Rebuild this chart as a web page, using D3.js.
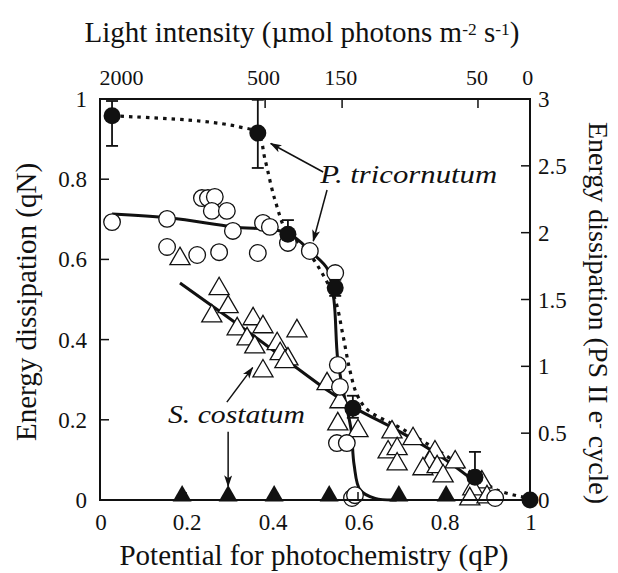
<!DOCTYPE html>
<html><head><meta charset="utf-8">
<script src="https://cdn.jsdelivr.net/npm/d3@7"></script>
<style>body{margin:0;background:#fff;}</style></head>
<body><svg id="c" width="618" height="573"></svg>
<script>
// ---- data ----
const xTicks = [0, 0.2, 0.4, 0.6, 0.8, 1];
const xTickLabels = ["0", "0.2", "0.4", "0.6", "0.8", "1"];
const yLeftTicks = [0, 0.2, 0.4, 0.6, 0.8, 1];
const yLeftTickLabels = ["0", "0.2", "0.4", "0.6", "0.8", "1"];
const yRightTicks = [0, 0.5, 1, 1.5, 2, 2.5, 3];
const yRightTickLabels = ["0", "0.5", "1", "1.5", "2", "2.5", "3"];
const topTickLabels = ["2000", "500", "150", "50", "0"];
const topTickQ = [0.05, 0.38, 0.56, 0.877, 0.995];
const topTickMarkQ = [0.384, 0.563, 0.879];

// P. tricornutum means (filled circles) qP, qN, error low, error high
const meanQ = [0.028, 0.367, 0.437, 0.547, 0.588, 0.872, 1.0];
const meanV = [0.958, 0.915, 0.663, 0.529, 0.229, 0.057, 0.0];
const meanLo = [0.883, 0.828, 0.663, 0.509, 0.205, 0.057, 0.0];
const meanHi = [0.995, 0.998, 0.698, 0.549, 0.260, 0.120, 0.0];

// P. tricornutum individual (open circles)
const ptQ = [0.028, 0.156, 0.237, 0.251, 0.267, 0.260, 0.295, 0.156, 0.226, 0.277, 0.367, 0.309, 0.379, 0.395, 0.437, 0.488, 0.547, 0.553, 0.558, 0.551, 0.574, 0.586, 0.593, 0.919];
const ptV = [0.693, 0.701, 0.753, 0.753, 0.756, 0.721, 0.721, 0.631, 0.611, 0.618, 0.616, 0.671, 0.691, 0.681, 0.641, 0.621, 0.566, 0.337, 0.282, 0.142, 0.142, 0.005, 0.012, 0.005];

// S. costatum individual (open triangles)
const scQ = [0.186, 0.277, 0.298, 0.260, 0.356, 0.379, 0.319, 0.342, 0.360, 0.412, 0.458, 0.419, 0.437, 0.430, 0.379, 0.528, 0.558, 0.553, 0.600, 0.679, 0.728, 0.670, 0.691, 0.691, 0.779, 0.767, 0.751, 0.784, 0.826, 0.798, 0.888, 0.867, 0.860, 0.900];
const scV = [0.599, 0.524, 0.479, 0.456, 0.449, 0.429, 0.424, 0.399, 0.379, 0.387, 0.419, 0.362, 0.349, 0.342, 0.319, 0.287, 0.242, 0.187, 0.170, 0.167, 0.150, 0.117, 0.125, 0.087, 0.117, 0.092, 0.075, 0.080, 0.092, 0.057, 0.042, 0.025, 0.0, 0.005];

// filled triangles at zero
const zeroQ = [0.191, 0.298, 0.405, 0.533, 0.695, 0.805];

// fitted curves
const ptFitQ = [0.028, 0.163, 0.309, 0.435, 0.493, 0.530, 0.544, 0.553, 0.570, 0.584, 0.591, 0.605, 0.640, 0.690];
const ptFitV = [0.713, 0.703, 0.681, 0.666, 0.616, 0.574, 0.499, 0.349, 0.249, 0.175, 0.087, 0.025, 0.004, 0.0];
const scFitQ = [0.186, 0.349, 0.535, 0.593, 0.698, 0.791, 0.879];
const scFitV = [0.541, 0.416, 0.269, 0.229, 0.170, 0.110, 0.040];
const meanFitQ = [0.028, 0.233, 0.326, 0.367, 0.384, 0.407, 0.435, 0.477, 0.519, 0.547, 0.565, 0.581, 0.598, 0.623, 0.698, 0.791, 0.872, 0.923, 1.0];
const meanFitV = [0.958, 0.945, 0.930, 0.915, 0.848, 0.748, 0.668, 0.628, 0.561, 0.499, 0.411, 0.324, 0.262, 0.224, 0.180, 0.120, 0.062, 0.025, 0.004];

// annotations (data space)
const arrows = [
  [0.519, 0.818, 0.397, 0.889],
  [0.528, 0.773, 0.496, 0.646],
  [0.295, 0.244, 0.355, 0.330],
  [0.298, 0.170, 0.298, 0.034]
];

// ---- layout ----
const L = 100, R = 530, T = 99, B = 500;
const FONT = '"Liberation Serif", "Times New Roman", serif';
const svg = d3.select("#c");
const x = d3.scaleLinear().domain([0, 1]).range([L, R]);
const y = d3.scaleLinear().domain([0, 1]).range([B, T]);
const y2 = d3.scaleLinear().domain([0, 3]).range([B, T]);

function txt(sel, size) {
  return sel.append("text").style("font-family", FONT).style("font-size", size + "px").style("fill", "#111");
}
function fit(t, width, maxSize) {
  const base = parseFloat(t.style("font-size"));
  const w = t.node().getComputedTextLength();
  if (w > 0) t.style("font-size", Math.min(maxSize, base * width / w) + "px");
  return t;
}

svg.append("defs").append("marker")
  .attr("id", "ah").attr("viewBox", "0 0 12 8").attr("refX", 11).attr("refY", 4)
  .attr("markerWidth", 12).attr("markerHeight", 8).attr("markerUnits", "userSpaceOnUse")
  .attr("orient", "auto")
  .append("path").attr("d", "M0,0 L12,4 L0,8 L3,4 Z").attr("fill", "#111");

// lines
const line = d3.line().curve(d3.curveCatmullRom.alpha(0.5));
svg.append("path").attr("d", line(meanFitQ.map((q, i) => [x(q), y(meanFitV[i])])))
  .attr("fill", "none").attr("stroke", "#111").attr("stroke-width", 3.2).attr("stroke-dasharray", "3.5,5");
svg.append("path").attr("d", line(ptFitQ.map((q, i) => [x(q), y(ptFitV[i])])))
  .attr("fill", "none").attr("stroke", "#111").attr("stroke-width", 3);
svg.append("path").attr("d", line(scFitQ.map((q, i) => [x(q), y(scFitV[i])])))
  .attr("fill", "none").attr("stroke", "#111").attr("stroke-width", 3);

// open triangles
const tri = d3.symbol().type(d3.symbolTriangle).size(175);
svg.append("g").selectAll("path").data(scQ).join("path")
  .attr("d", tri).attr("transform", (q, i) => `translate(${x(q)},${y(scV[i]) - 1})`)
  .attr("fill", "#fff").attr("stroke", "#111").attr("stroke-width", 1.3);

// open circles
svg.append("g").selectAll("circle").data(ptQ).join("circle")
  .attr("cx", q => x(q)).attr("cy", (q, i) => y(ptV[i])).attr("r", 8.3)
  .attr("fill", "#fff").attr("stroke", "#111").attr("stroke-width", 1.3);

// frame
svg.append("rect").attr("x", L).attr("y", T).attr("width", R - L).attr("height", B - T)
  .attr("fill", "none").attr("stroke", "#111").attr("stroke-width", 2);

// filled triangles
svg.append("g").selectAll("path").data(zeroQ).join("path")
  .attr("d", d3.symbol().type(d3.symbolTriangle).size(155)).attr("transform", q => `translate(${x(q)},${B - 4})`)
  .attr("fill", "#111");

// error bars
const eb = svg.append("g").attr("stroke", "#111").attr("stroke-width", 1.8);
meanQ.forEach((q, i) => {
  if (meanHi[i] - meanLo[i] <= 0) return;
  eb.append("line").attr("x1", x(q)).attr("x2", x(q)).attr("y1", y(meanLo[i])).attr("y2", y(meanHi[i]));
  eb.append("line").attr("x1", x(q) - 6).attr("x2", x(q) + 6).attr("y1", y(meanLo[i])).attr("y2", y(meanLo[i]));
  eb.append("line").attr("x1", x(q) - 6).attr("x2", x(q) + 6).attr("y1", y(meanHi[i])).attr("y2", y(meanHi[i]));
});
// filled circles
svg.append("g").selectAll("circle").data(meanQ).join("circle")
  .attr("cx", q => x(q)).attr("cy", (q, i) => y(meanV[i])).attr("r", 8.5).attr("fill", "#111");

// ticks
const tk = svg.append("g").attr("stroke", "#111").attr("stroke-width", 1.5);
yLeftTicks.slice(1, -1).forEach(v => tk.append("line").attr("x1", L).attr("x2", L + 9).attr("y1", y(v)).attr("y2", y(v)));
yRightTicks.slice(1, -1).forEach(v => tk.append("line").attr("x1", R - 9).attr("x2", R).attr("y1", y2(v)).attr("y2", y2(v)));
xTicks.slice(1, -1).forEach(v => tk.append("line").attr("x1", x(v)).attr("x2", x(v)).attr("y1", B).attr("y2", B - 8));
topTickMarkQ.forEach(v => tk.append("line").attr("x1", x(v)).attr("x2", x(v)).attr("y1", T).attr("y2", T + 9));

// tick labels
const fs = 23;
yLeftTicks.forEach((v, i) => txt(svg, fs).attr("x", L - 13).attr("y", y(v) + 8)
  .attr("text-anchor", "end").text(yLeftTickLabels[i]));
yRightTicks.forEach((v, i) => txt(svg, fs).attr("x", R + 8).attr("y", y2(v) + 8)
  .attr("text-anchor", "start").text(yRightTickLabels[i]));
xTicks.forEach((v, i) => txt(svg, fs).attr("x", x(v) + 1).attr("y", 530)
  .attr("text-anchor", "middle").text(xTickLabels[i]));
topTickQ.forEach((v, i) => txt(svg, 22).attr("x", x(v)).attr("y", 85)
  .attr("text-anchor", "middle").text(topTickLabels[i]));

// axis titles
fit(txt(svg, 27).attr("x", 314).attr("y", 565).attr("text-anchor", "middle")
  .text("Potential for photochemistry (qP)"), 432, 29);
const tt = txt(svg, 27).attr("x", 302).attr("y", 42).attr("text-anchor", "middle");
tt.append("tspan").text("Light intensity (\u00b5mol photons m");
tt.append("tspan").style("font-size", "0.6em").attr("dy", "-0.42em").text("-2");
tt.append("tspan").attr("dy", "0.25em").text(" s");
tt.append("tspan").style("font-size", "0.6em").attr("dy", "-0.42em").text("-1");
tt.append("tspan").attr("dy", "0.25em").text(")");
fit(tt, 451, 29);
fit(txt(svg, 27).attr("transform", "translate(36,302) rotate(-90)").attr("text-anchor", "middle")
  .text("Energy dissipation (qN)"), 323, 29);
const rt = txt(svg, 27).attr("transform", "translate(589,313) rotate(90)").attr("text-anchor", "middle");
rt.append("tspan").text("Energy dissipation (PS II e");
rt.append("tspan").style("font-size", "0.6em").attr("dy", "-0.42em").text("-");
rt.append("tspan").attr("dy", "0.25em").text(" cycle)");
fit(rt, 440, 28);

// annotations
arrows.forEach(a => svg.append("line").attr("x1", x(a[0])).attr("y1", y(a[1])).attr("x2", x(a[2])).attr("y2", y(a[3]))
  .attr("stroke", "#111").attr("stroke-width", 1.5).attr("marker-end", "url(#ah)"));
txt(svg, 26).attr("x", x(0.512)).attr("y", y(0.790)).style("font-style", "italic")
  .attr("textLength", 177).attr("lengthAdjust", "spacingAndGlyphs").text("P. tricornutum");
txt(svg, 26).attr("x", x(0.158)).attr("y", y(0.192)).style("font-style", "italic")
  .attr("textLength", 137).attr("lengthAdjust", "spacingAndGlyphs").text("S. costatum");
</script></body></html>
